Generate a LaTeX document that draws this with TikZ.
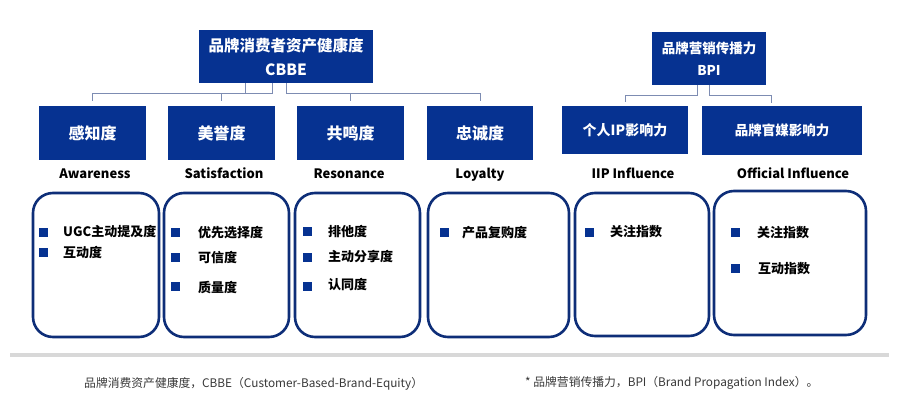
\documentclass[tikz,border=0pt]{standalone}
\usepackage{fontspec}
\setmainfont{Noto Sans CJK SC}
\usetikzlibrary{positioning}
\definecolor{navy}{RGB}{6,50,145}
\definecolor{rim}{RGB}{14,46,120}
\definecolor{linkgray}{RGB}{125,140,178}
\definecolor{rulegray}{RGB}{216,216,216}
\definecolor{notegray}{RGB}{55,55,55}

\begin{document}
\begin{tikzpicture}[
        x=1pt, y=-1pt,
        headbox/.style={rectangle, fill=navy, text=white, align=center, inner sep=0pt, font=\bfseries\fontsize{15.5}{24}\selectfont},
        dimbox/.style={rectangle, fill=navy, text=white, align=center, inner sep=0pt, font=\bfseries\fontsize{16}{20}\selectfont},
        enlabel/.style={anchor=base, font=\bfseries\fontsize{13}{16}\selectfont, inner sep=0pt},
        listbox/.style={rectangle, draw=rim, line width=2.6pt, rounded corners=20pt, minimum height=144pt},
        bullet/.style={rectangle, fill=navy, minimum size=9pt, inner sep=0pt},
        itemtext/.style={anchor=west, font=\bfseries\fontsize{13}{16}\selectfont, inner sep=0pt},
        note/.style={anchor=base west, text=notegray, font=\fontsize{11.8}{14}\selectfont, inner sep=0pt},
        link/.style={draw=linkgray, line width=1pt}
    ]
        \useasboundingbox (0,0) rectangle (900,409);

        % top level
        \node[headbox, minimum width=174pt, minimum height=53pt] (cbbe) at (286,56.5) {品牌消费者资产健康度\\CBBE};
        \node[headbox, minimum width=114pt, minimum height=53pt, font=\bfseries\fontsize{13.5}{22}\selectfont] (bpi) at (709,58.5) {品牌营销传播力\\BPI};

        % dimensions
        \node[dimbox, minimum width=107pt, minimum height=54pt] (aware) at (92.5,133) {感知度};
        \node[dimbox, minimum width=107pt, minimum height=54pt] (satis) at (221.5,133) {美誉度};
        \node[dimbox, minimum width=107pt, minimum height=54pt] (reson) at (350.5,133) {共鸣度};
        \node[dimbox, minimum width=106pt, minimum height=54pt] (loyal) at (480,133) {忠诚度};
        \node[dimbox, minimum width=126pt, minimum height=48pt, font=\bfseries\fontsize{14}{18}\selectfont] (ipinf) at (625,130) {个人IP影响力};
        \node[dimbox, minimum width=160pt, minimum height=49pt, font=\bfseries\fontsize{13.5}{18}\selectfont] (offinf) at (782,130.5) {品牌官媒影响力};

        \draw[link, shorten >=5pt] ([xshift=-14pt]cbbe.south) -- ++(0,10) -| (aware.north);
        \draw[link, shorten >=5pt] ([xshift=-41pt]cbbe.south) -- ++(0,10) -| (satis.north);
        \draw[link, shorten >=5pt] (cbbe.south) -- ++(0,10.5) -| (reson.north);
        \draw[link, shorten >=5pt] (cbbe.south) -- ++(0,10.5) -| (loyal.north);
        \draw[link, shorten >=4pt] ([xshift=-12pt]bpi.south) -- ++(0,10) -| (ipinf.north);
        \draw[link, shorten >=3pt] (bpi.south) -- ++(0,10) -| ([xshift=-11pt]offinf.north);

        % english names
        \node[enlabel] (awaretxt) at (95,178.5) {Awareness};
        \node[enlabel] (satistxt) at (224,178.5) {Satisfaction};
        \node[enlabel] (resontxt) at (349,178.5) {Resonance};
        \node[enlabel] (loyaltxt) at (480,178.5) {Loyalty};
        \node[enlabel] (iptxt) at (633,178.5) {IIP Influence};
        \node[enlabel] (offtxt) at (793,178.5) {Official Influence};

        % indicator boxes
        \node[listbox, minimum width=126pt] (list1) at (96,265) {};
        \node[listbox, minimum width=125pt] (list2) at (226.5,265) {};
        \node[listbox, minimum width=125pt] (list3) at (357.5,265) {};
        \node[listbox, minimum width=141pt] (list4) at (498.5,265) {};
        \node[listbox, minimum width=134pt, minimum height=143pt] (list5) at (642,264.5) {};
        \node[listbox, minimum width=152pt] (list6) at (790,263) {};

        \node[bullet] (b1a) at (43.5,232) {};
        \node[itemtext] (t1a) at (63,232) {UGC主动提及度};
        \node[bullet] (b1b) at (43.5,252) {};
        \node[itemtext] (t1b) at (63,252) {互动度};

        \node[bullet] (b2a) at (175.5,232) {};
        \node[itemtext] (t2a) at (198,233) {优先选择度};
        \node[bullet] (b2b) at (175.5,257) {};
        \node[itemtext] (t2b) at (198,258) {可信度};
        \node[bullet] (b2c) at (175.5,286) {};
        \node[itemtext] (t2c) at (198,288) {质量度};

        \node[bullet] (b3a) at (307.5,231) {};
        \node[itemtext] (t3a) at (328,232) {排他度};
        \node[bullet] (b3b) at (307.5,257) {};
        \node[itemtext] (t3b) at (328,257) {主动分享度};
        \node[bullet] (b3c) at (307.5,286) {};
        \node[itemtext] (t3c) at (328,285) {认同度};

        \node[bullet] (b4a) at (444.5,232) {};
        \node[itemtext] (t4a) at (462,233) {产品复购度};

        \node[bullet] (b5a) at (589,232) {};
        \node[itemtext] (t5a) at (610,232) {关注指数};

        \node[bullet] (b6a) at (735,232) {};
        \node[itemtext] (t6a) at (757,233) {关注指数};
        \node[bullet] (b6b) at (735,268) {};
        \node[itemtext] (t6b) at (758,269) {互动指数};

        % separator and notes
        \draw[rulegray, line width=4pt] (10,355) -- (889,355);
        \node[note] (note1) at (84,387) {品牌消费资产健康度，CBBE（Customer-Based-Brand-Equity）};
        \node[note] (note2) at (525,386) {* 品牌营销传播力，BPI（Brand Propagation Index）。};
    \end{tikzpicture}
\end{document}
